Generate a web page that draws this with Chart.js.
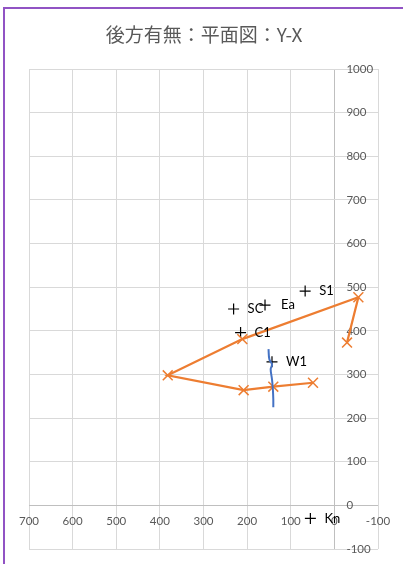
<!DOCTYPE html>
<html>
<head>
<meta charset="utf-8">
<script src="https://cdn.jsdelivr.net/npm/chart.js@4.4.1/dist/chart.umd.min.js"></script>
<style>
  html, body { margin: 0; padding: 0; background: #fff; }
  #wrap { position: relative; width: 403px; height: 564px; overflow: hidden; }
  #frame { position: absolute; left: 3px; top: 7px; width: 500px; height: 700px;
           border-left: 2px solid #9153c4; border-top: 2px solid #9153c4; pointer-events: none; }
  canvas { position: absolute; left: 0; top: 0; }
</style>
</head>
<body>
<div id="wrap">
  <canvas id="chart" width="403" height="564"></canvas>
  <div id="frame"></div>
</div>
<script>
// Title and axis ranges
const titleText = '後方有無：平面図：Y-X';
const xRange = [-100, 700];
const yRange = [-100, 1000];
const tickStep = 100;

// Orange outline (x markers)
const lineX = [49, 140, 208, 382, 211, -55, -29];
const lineY = [281, 272, 264, 298, 381, 477, 373];

// Blue curve
const curveX = [151, 149, 143, 146, 143, 141, 140, 140];
const curveY = [358, 335, 323, 312, 289, 266, 243, 225];

// Named + points
const pointNames = ['SC', 'Ea', 'S1', 'C1', 'W1', 'Kn'];
const pointX = [231, 159, 67, 215, 143, 55];
const pointY = [450, 459, 491, 396, 329, -30];

const toXY = (xs, ys) => xs.map((v, i) => ({ x: v, y: ys[i] }));

const textGrey = '#595959';
const gridGrey = '#d9d9d9';
const axisGrey = '#bfbfbf';

// draws title, tick labels at the axis crossings and point names
const excelLook = {
    id: 'excelLook',
    beforeDatasetsDraw(chart) {
        const { ctx, scales: { x, y } } = chart;
        ctx.save();
        ctx.fillStyle = textGrey;
        ctx.font = '11.5px Lato';
        ctx.textBaseline = 'middle';
        const y0 = y.getPixelForValue(0);
        const x0 = x.getPixelForValue(0);
        ctx.textAlign = 'center';
        x.ticks.forEach(t => ctx.fillText(String(t.value), x.getPixelForValue(t.value), y0 + 16));
        ctx.textAlign = 'left';
        y.ticks.forEach(t => ctx.fillText(String(t.value), x0 + 12, y.getPixelForValue(t.value)));
        //title
        ctx.font = '19px "Noto Sans CJK JP"';
        ctx.textAlign = 'center';
        ctx.fillText(titleText, 204, 35);
        ctx.restore();
    },
    afterDatasetsDraw(chart) {
        const { ctx, scales: { x, y } } = chart;
        ctx.save();
        ctx.fillStyle = '#000';
        ctx.font = '13px Lato';
        ctx.textAlign = 'left';
        ctx.textBaseline = 'middle';
        pointNames.forEach((name, i) => {
            const dx = name === 'Ea' ? 16 : 14;
            ctx.fillText(name, x.getPixelForValue(pointX[i]) + dx, y.getPixelForValue(pointY[i]));
        });
        ctx.restore();
    }
};

const gridColor = c => (c.tick && c.tick.value === 0 ? axisGrey : gridGrey);

new Chart(document.getElementById('chart'), {
    type: 'scatter',
    data: {
        datasets: [
            {
                label: 'curve',
                data: toXY(curveX, curveY),
                showLine: true,
                borderColor: '#4472c4',
                borderWidth: 2,
                tension: 0.4,
                pointRadius: 0
            },
            {
                label: 'outline',
                data: toXY(lineX, lineY),
                showLine: true,
                borderColor: '#ed7d31',
                borderWidth: 2.25,
                tension: 0,
                pointStyle: 'crossRot',
                pointRadius: 7,
                pointBorderColor: '#ed7d31',
                pointBorderWidth: 1.5
            },
            {
                label: 'points',
                data: toXY(pointX, pointY),
                showLine: false,
                pointStyle: 'cross',
                pointRadius: 5.5,
                pointBorderColor: '#000',
                pointBorderWidth: 1.2
            }
        ]
    },
    options: {
        responsive: false,
        animation: false,
        layout: { padding: { left: 29, top: 69, right: 25, bottom: 15 } },
        plugins: {
            legend: { display: false },
            tooltip: { enabled: false }
        },
        scales: {
            x: {
                type: 'linear',
                reverse: true,
                min: xRange[0],
                max: xRange[1],
                ticks: { stepSize: tickStep, display: false },
                grid: { color: gridColor, lineWidth: 1, drawTicks: false },
                border: { display: false }
            },
            y: {
                type: 'linear',
                min: yRange[0],
                max: yRange[1],
                ticks: { stepSize: tickStep, display: false },
                grid: { color: gridColor, lineWidth: 1, drawTicks: false },
                border: { display: false }
            }
        }
    },
    plugins: [excelLook]
});
</script>
</body>
</html>
